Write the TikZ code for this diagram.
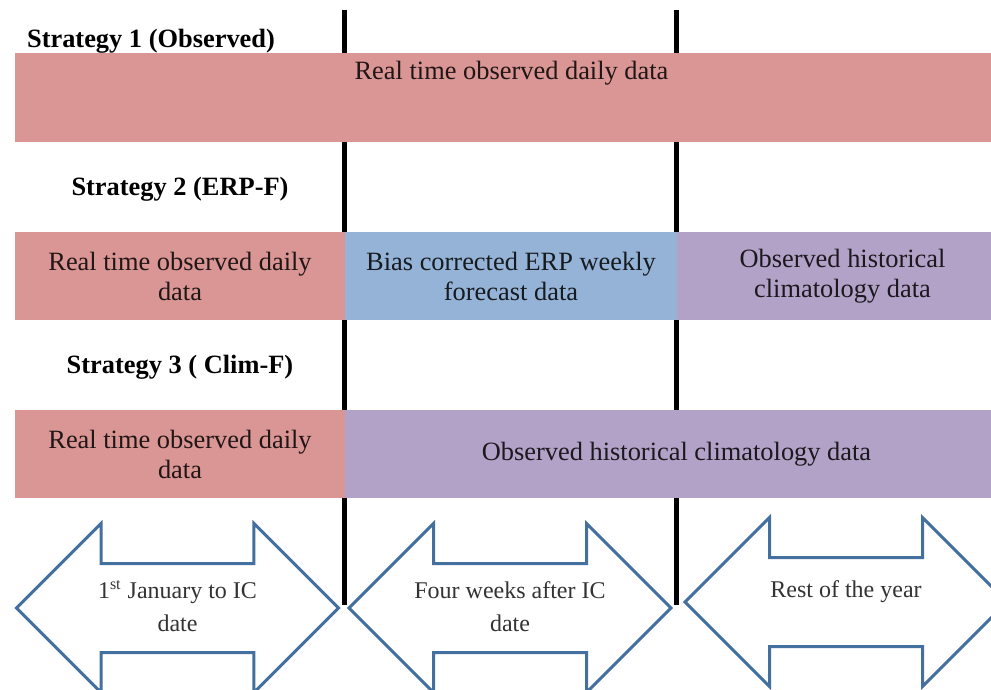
\documentclass[tikz,border=0pt]{standalone}
\usepackage{fontspec}
\setmainfont{Liberation Serif}
\usepackage{tikz}
\usetikzlibrary{shapes.arrows}
\definecolor{obsred}{HTML}{D99694}
\definecolor{erpblue}{HTML}{95B3D7}
\definecolor{climpurple}{HTML}{B3A2C7}
\definecolor{arrowblue}{HTML}{4470A0}
\newcommand{\spanlines}[1]{\begin{tabular}{@{}c@{}}#1\end{tabular}}

\begin{document}
\begin{tikzpicture}[x=0.5pt, y=-0.5pt,
        bar/.style={rectangle, inner sep=0pt, align=center, font=\fontsize{13.2}{15}\selectfont},
        strategy/.style={inner sep=0pt, font=\bfseries\fontsize{13.2}{15}\selectfont},
        period/.style={double arrow, draw=arrowblue, line width=1.5pt, fill=white, inner sep=0pt,
            text height=24.5pt, text depth=18.5pt,
            minimum height=161pt, minimum width=83pt, double arrow head extend=20pt,
            text=black!80, font=\fontsize{12}{16.5}\selectfont},
        divider/.style={line width=2.5pt}]
    \useasboundingbox (0, 0) rectangle (991, 690);

    \coordinate (d1top) at (344, 10);
    \coordinate (d1bot) at (344, 605);
    \coordinate (d2top) at (676, 10);
    \coordinate (d2bot) at (676, 605);
    \draw [divider] (d1top) -- (d1bot);
    \draw [divider] (d2top) -- (d2bot);

    \node[strategy] at (151, 41) (s1) {Strategy 1 (Observed)};
    \node[bar, fill=obsred, minimum width=496.5pt, minimum height=44.5pt,
        label={[bar, anchor=north, yshift=-4pt, text=obsred!15!black]north:Real time observed daily data}]
        at (511.5, 97.5) (s1obs) {};

    \node[strategy] at (180, 189) (s2) {Strategy 2 (ERP-F)};
    \node[bar, fill=obsred, text=obsred!15!black, minimum width=165pt, minimum height=44pt]
        at (180, 276) (s2obs) {Real time observed daily\\data};
    \node[bar, fill=erpblue, text=erpblue!15!black, minimum width=166pt, minimum height=44pt]
        at (511, 276) (s2erp) {Bias corrected ERP weekly\\forecast data};
    \node[bar, fill=climpurple, text=climpurple!15!black, minimum width=165.5pt, minimum height=44pt]
        at (842.5, 276) (s2clim) {Observed historical\\climatology data};

    \node[strategy] at (180, 367) (s3) {Strategy 3 ( Clim-F)};
    \node[bar, fill=obsred, text=obsred!15!black, minimum width=165pt, minimum height=44pt]
        at (180, 454) (s3obs) {Real time observed daily\\data};
    \node[bar, fill=climpurple, text=climpurple!15!black, minimum width=331.5pt, minimum height=44pt]
        at (676.5, 454) (s3clim) {Observed historical climatology data};

    \node[period] at (177.5, 608) (p1) {\spanlines{1\textsuperscript{st} January to IC\\date}};
    \node[period] at (510, 608) (p2) {\spanlines{Four weeks after IC\\date}};
    \node[period, text height=19pt, text depth=24pt] at (846, 602) (p3) {\spanlines{Rest of the year}};
\end{tikzpicture}
\end{document}
